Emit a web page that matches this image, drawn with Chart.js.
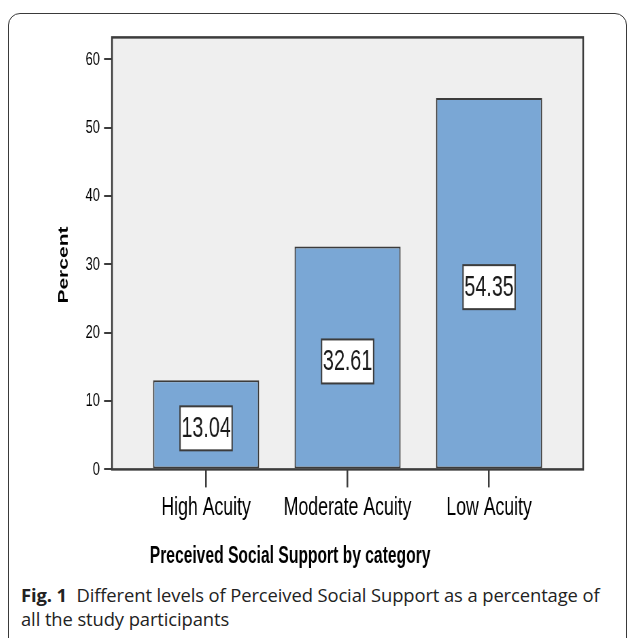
<!DOCTYPE html>
<html>
<head>
<meta charset="utf-8">
<script src="https://cdn.jsdelivr.net/npm/chart.js@4"></script>
<style>
  html, body { margin: 0; padding: 0; width: 629px; height: 638px; overflow: hidden; background: #fff; }
  #frame {
    position: absolute; left: 8px; top: 13px; width: 617px; height: 700px;
    border: 1.5px solid #3a3a3a; border-radius: 12px 12px 0 0;
  }
  /* the original chart was squeezed sideways, so the canvas is too */
  #graficoResumo {
    position: absolute; left: -20px; top: 20px; width: 912px; height: 560px;
    transform: scaleX(0.68); transform-origin: 0 0;
  }
  #legenda {
    position: absolute; left: 21px; top: 583px; width: 605px;
    font-family: "Open Sans", sans-serif; font-weight: 400; font-size: 18.4px;
    line-height: 24px; color: #222; white-space: nowrap; letter-spacing: -0.1px;
  }
  #legenda b { font-weight: 700; }
</style>
</head>
<body>
<div id="frame"></div>
<canvas id="graficoResumo" width="912" height="560"></canvas>
<div id="legenda"><b>Fig. 1</b>&nbsp; Different levels of Perceived Social Support as a percentage of<br>all the study participants</div>

<script>
// dados
const categorias = ["High Acuity", "Moderate Acuity", "Low Acuity"];
const percentuais = [13.04, 32.61, 54.35];
const rotulos = ["13.04", "32.61", "54.35"];
const ticksY = [0, 10, 20, 30, 40, 50, 60];

const fonte = "'Liberation Sans', Arial, sans-serif";

// fundo cinza e moldura da área do gráfico
const molduraPlot = {
    id: "molduraPlot",
    beforeDatasetsDraw(chart){
        const a = chart.chartArea, ctx = chart.ctx;
        ctx.save();
        ctx.fillStyle = "#efefef";
        ctx.fillRect(a.left, a.top, a.right - a.left, a.bottom - a.top);
        ctx.restore();
    },
    afterDatasetsDraw(chart){
        const a = chart.chartArea, ctx = chart.ctx;
        ctx.save();
        ctx.strokeStyle = "#3c3c3c";
        ctx.lineWidth = 2.5;
        ctx.strokeRect(a.left, a.top, a.right - a.left, a.bottom - a.top);
        ctx.restore();
    }
};

// caixinhas com o valor no meio da barra
const rotuloBarra = {
    id: "rotuloBarra",
    afterDatasetsDraw(chart){
        const ctx = chart.ctx;
        const barras = chart.getDatasetMeta(0).data;
        ctx.save();
        ctx.font = "29px " + fonte;
        ctx.textAlign = "center";
        ctx.textBaseline = "middle";
        barras.forEach((b, i) => {
            const txt = rotulos[i];
            const w = ctx.measureText(txt).width + 4;
            const h = 44;
            const cy = (b.y + b.base) / 2 + 4;
            ctx.fillStyle = "#fff";
            ctx.fillRect(b.x - w / 2, cy - h / 2, w, h);
            ctx.strokeStyle = "#3c3c3c";
            ctx.lineWidth = 2;
            ctx.strokeRect(b.x - w / 2, cy - h / 2, w, h);
            ctx.fillStyle = "#1a1a1a";
            ctx.fillText(txt, b.x, cy + 1);
        });
        ctx.restore();
    }
};

const canvas = document.getElementById("graficoResumo");

new Chart(canvas, {
    type: "bar",
    data: {
        datasets: [{
            data: percentuais.map((v, i) => ({ x: i, y: v })),
            backgroundColor: "#7aa7d5",
            borderColor: "#3c3c3c",
            borderWidth: 2,
            borderSkipped: false,
            barPercentage: 0.75,
            categoryPercentage: 1
        }]
    },
    options: {
        responsive: false,
        animation: false,
        layout: { padding: { top: 13, right: 25, left: 25, bottom: 0 } },
        plugins: {
            legend: { display: false },
            tooltip: { enabled: false },
            title: {
                display: true,
                position: "bottom",
                text: "Preceived Social Support by category",
                color: "#000",
                font: { family: fonte, size: 23, weight: "bold" },
                padding: { top: 18, bottom: 10 }
            }
        },
        scales: {
            x: {
                type: "linear",
                min: -0.665,
                max: 2.665,
                offset: false,
                afterBuildTicks(scale){
                    scale.ticks = categorias.map((c, i) => ({ value: i }));
                },
                afterFit(scale){ scale.height = 55; },
                ticks: {
                    callback: v => categorias[v],
                    color: "#000",
                    font: { family: fonte, size: 26 },
                    padding: 5,
                    maxRotation: 0,
                    autoSkip: false
                },
                grid: {
                    offset: false,
                    drawOnChartArea: false,
                    tickLength: 18,
                    color: "#3c3c3c",
                    lineWidth: 2.5
                },
                border: { display: false }
            },
            y: {
                min: 0,
                max: 63.2,
                afterBuildTicks(scale){
                    scale.ticks = ticksY.map(v => ({ value: v }));
                },
                afterFit(scale){ scale.width = 169.1; },
                ticks: {
                    color: "#000",
                    font: { family: fonte, size: 19 },
                    padding: 6
                },
                grid: {
                    drawOnChartArea: false,
                    tickLength: 11.7,
                    color: "#3c3c3c",
                    lineWidth: 2
                },
                border: { display: false },
                title: {
                    display: true,
                    text: "Percent    ",
                    color: "#000",
                    font: { family: fonte, size: 21, weight: "bold" },
                    padding: { top: 86, bottom: 0 }
                }
            }
        }
    },
    plugins: [molduraPlot, rotuloBarra]
});
</script>
</body>
</html>
